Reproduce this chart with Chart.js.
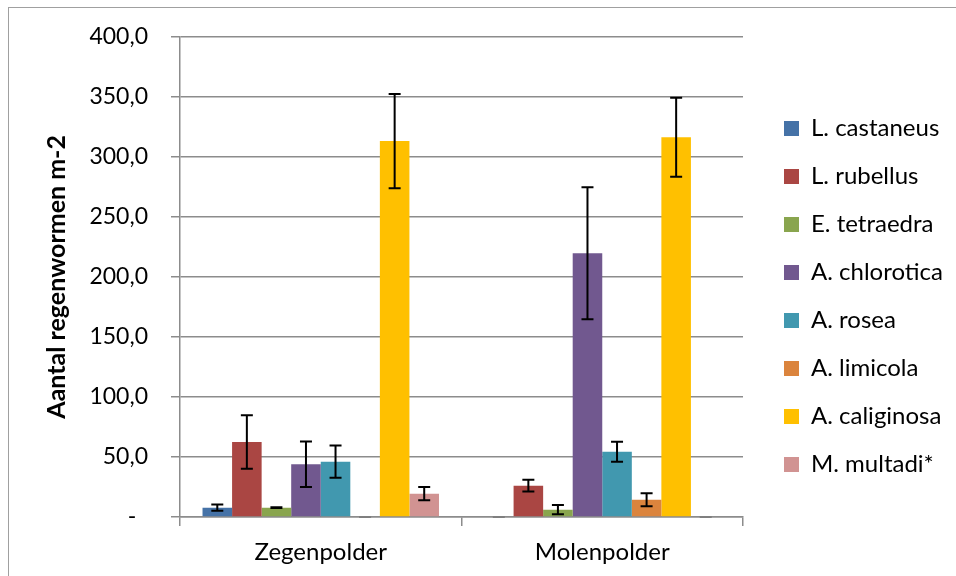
<!DOCTYPE html>
<html>
<head>
<meta charset="utf-8">
<script src="https://cdn.jsdelivr.net/npm/chart.js@4.4.1/dist/chart.umd.min.js"></script>
<style>
  html, body { margin: 0; padding: 0; background: #fff; overflow: hidden; }
  #wrap { position: relative; width: 956px; height: 576px; }
  #frame {
    position: absolute; left: 8px; top: 7px; width: 1000px; height: 1000px;
    border: 1.5px solid #a0a0a0; pointer-events: none;
  }
</style>
</head>
<body>
<div id="wrap">
  <canvas id="wormChart" width="956" height="576"></canvas>
  <div id="frame"></div>
</div>
<script>
// Earthworm density per polder (mean and error per species)
const categories = ['Zegenpolder', 'Molenpolder'];
const species = ['L. castaneus', 'L. rubellus', 'E. tetraedra', 'A. chlorotica',
                 'A. rosea', 'A. limicola', 'A. caliginosa', 'M. multadi*'];

const castaneus  = [7.8, 0];
const rubellus   = [62.5, 26.1];
const tetraedra  = [7.8, 6.1];
const chlorotica = [43.9, 219.7];
const rosea      = [46.1, 54.4];
const limicola   = [0, 14.4];
const caliginosa = [313.1, 316.4];
const multadi    = [19.4, 0];

const castaneusErr  = [2.6, 0];
const rubellusErr   = [22.3, 4.9];
const tetraedraErr  = [0.3, 3.9];
const chloroticaErr = [19.0, 55.0];
const roseaErr      = [13.5, 8.3];
const limicolaErr   = [0, 5.4];
const caliginosaErr = [39.3, 32.9];
const multadiErr    = [5.5, 0];

const yTicks = [0, 50, 100, 150, 200, 250, 300, 350, 400];

const seriesValues = [castaneus, rubellus, tetraedra, chlorotica, rosea, limicola, caliginosa, multadi];
const seriesErrors = [castaneusErr, rubellusErr, tetraedraErr, chloroticaErr, roseaErr, limicolaErr, caliginosaErr, multadiErr];
const palette = ['#4572A7', '#AA4643', '#89A54E', '#71588F', '#4198AF', '#DB843D', '#FFC000', '#D19392'];

const FONT = 'Lato';
const GRID = '#8c8c8c';
const LEGEND_SHIFT_X = 17; // extra room between plot and legend
const LEGEND_SHIFT_Y = -7;

// Draws the black error bars on top of each bar using the y scale
const errorBars = {
  id: 'errorBars',
  afterDatasetsDraw(chart) {
    const ctx = chart.ctx;
    const y = chart.scales.y;
    ctx.save();
    ctx.lineWidth = 2;
    chart.data.datasets.forEach((ds, i) => {
      const meta = chart.getDatasetMeta(i);
      meta.data.forEach((bar, j) => {
        const v = ds.data[j];
        const e = ds.errors[j];
        const top = y.getPixelForValue(v + e);
        const bot = y.getPixelForValue(Math.max(0, v - e));
        const cap = 6;
        ctx.strokeStyle = v === 0 ? '#7f7f7f' : '#000';
        ctx.beginPath();
        ctx.moveTo(bar.x, top); ctx.lineTo(bar.x, bot);
        ctx.moveTo(bar.x - cap, top); ctx.lineTo(bar.x + cap, top);
        ctx.moveTo(bar.x - cap, bot); ctx.lineTo(bar.x + cap, bot);
        ctx.stroke();
      });
    });
    ctx.restore();
  }
};

// Nudge the legend box after layout
const legendNudge = {
  id: 'legendNudge',
  afterLayout(chart) {
    const lg = chart.legend;
    if (!lg) return;
    lg.left += LEGEND_SHIFT_X;
    lg.right += LEGEND_SHIFT_X;
    lg.top += LEGEND_SHIFT_Y;
    lg.bottom += LEGEND_SHIFT_Y;
  }
};

new Chart(document.getElementById('wormChart'), {
  type: 'bar',
  data: {
    labels: categories,
    datasets: species.map((name, i) => ({
      label: name,
      data: seriesValues[i],
      errors: seriesErrors[i],
      backgroundColor: palette[i],
      borderWidth: 0,
      categoryPercentage: 0.84,
      barPercentage: 1.0
    }))
  },
  options: {
    responsive: false,
    animation: false,
    devicePixelRatio: 1,
    layout: { padding: { left: 42, top: 31, right: 20, bottom: 0 } },
    plugins: {
      tooltip: { enabled: false },
      legend: {
        position: 'right',
        labels: {
          color: '#000',
          boxWidth: 15,
          boxHeight: 15,
          padding: 24,
          font: { family: FONT, size: 24 }
        }
      }
    },
    scales: {
      x: {
        offset: true,
        afterFit(scale) { scale.height = 59; },
        grid: { offset: true, drawOnChartArea: false, drawTicks: true, tickLength: 9, color: GRID, lineWidth: 1.5 },
        border: { color: GRID, width: 1.5 },
        ticks: { color: '#000', padding: 12, font: { family: FONT, size: 24 } }
      },
      y: {
        min: 0,
        max: 400,
        afterBuildTicks(scale) { scale.ticks = yTicks.map(v => ({ value: v })); },
        afterFit(scale) { scale.width = 138; },
        grid: { color: GRID, lineWidth: 1.5, tickLength: 9 },
        border: { color: GRID, width: 1.5 },
        title: {
          display: true,
          text: 'Aantal regenwormen m-2',
          color: '#000',
          padding: 0,
          font: { family: FONT, size: 25, weight: 'bold' }
        },
        ticks: {
          color: '#000',
          padding: 23,
          font: { family: FONT, size: 23 },
          callback: v => v === 0 ? '-  ' : v.toFixed(1).replace('.', ',')
        }
      }
    }
  },
  plugins: [errorBars, legendNudge]
});
</script>
</body>
</html>
